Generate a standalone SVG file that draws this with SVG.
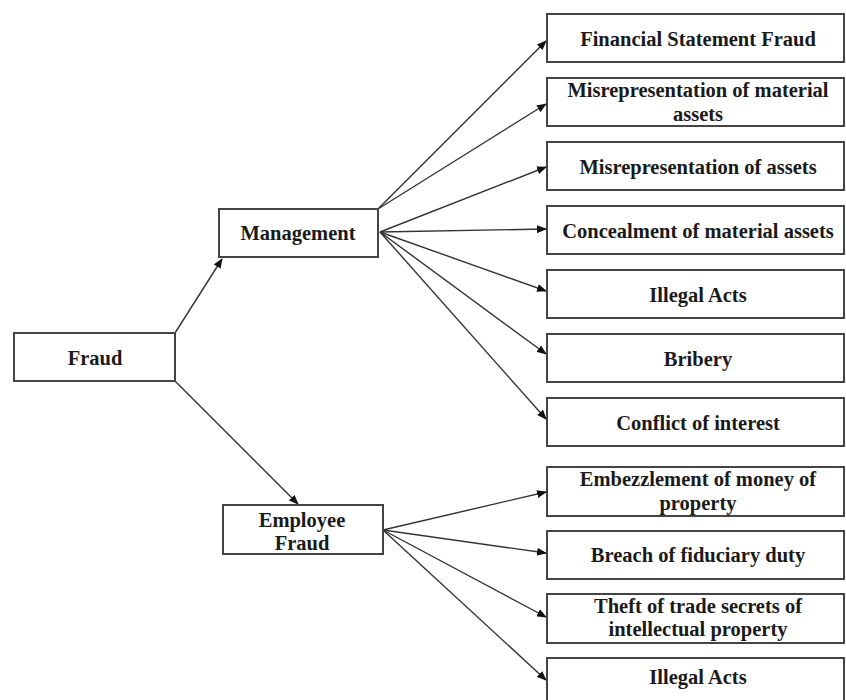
<svg xmlns="http://www.w3.org/2000/svg" width="846" height="700" viewBox="0 0 846 700">
<defs>
<marker id="ah" markerWidth="10" markerHeight="8" refX="9" refY="4" orient="auto" markerUnits="userSpaceOnUse">
<path d="M0,0 L10,4 L0,8 Z" fill="#111"/>
</marker>
<style>
.box{fill:#fff;stroke:#444;stroke-width:2}
.t{font-family:"Liberation Serif","Times New Roman",serif;font-weight:bold;font-size:20.5px;fill:#1a1a1a;text-anchor:middle}
.c{stroke:#333;stroke-width:1.4;fill:none;marker-end:url(#ah)}
</style>
</defs>
<rect width="846" height="700" fill="#fff"/>
<g id="connectors">
<line class="c" x1="175" y1="333" x2="222" y2="259"/>
<line class="c" x1="175" y1="381" x2="298" y2="504"/>
<line class="c" x1="378" y1="209" x2="546" y2="41"/>
<line class="c" x1="378" y1="209" x2="546" y2="104"/>
<line class="c" x1="380" y1="232" x2="546" y2="167"/>
<line class="c" x1="380" y1="232" x2="546" y2="229"/>
<line class="c" x1="380" y1="232" x2="546" y2="291"/>
<line class="c" x1="380" y1="232" x2="546" y2="354"/>
<line class="c" x1="380" y1="232" x2="546" y2="419"/>
<line class="c" x1="383" y1="530" x2="546" y2="492"/>
<line class="c" x1="383" y1="530" x2="546" y2="553"/>
<line class="c" x1="383" y1="530" x2="546" y2="617"/>
<line class="c" x1="383" y1="530" x2="546" y2="680"/>
</g>
<g id="fraud"><rect class="box" x="14" y="333" width="161" height="48"/><text class="t" x="95" y="365">Fraud</text></g>
<g id="management"><rect class="box" x="219" y="209" width="159" height="48"/><text class="t" x="298" y="240">Management</text></g>
<g id="employee"><rect class="box" x="223" y="505" width="160" height="49"/><text class="t" x="302" y="527">Employee</text><text class="t" x="302" y="550">Fraud</text></g>
<g id="n1"><rect class="box" x="547" y="14" width="297" height="48"/><text class="t" x="698" y="46">Financial Statement Fraud</text></g>
<g id="n2"><rect class="box" x="547" y="78" width="297" height="48"/><text class="t" x="698" y="97">Misrepresentation of material</text><text class="t" x="698" y="121">assets</text></g>
<g id="n3"><rect class="box" x="547" y="142" width="297" height="48"/><text class="t" x="698" y="174">Misrepresentation of assets</text></g>
<g id="n4"><rect class="box" x="547" y="206" width="297" height="48"/><text class="t" x="698" y="238">Concealment of material assets</text></g>
<g id="n5"><rect class="box" x="547" y="270" width="297" height="48"/><text class="t" x="698" y="302">Illegal Acts</text></g>
<g id="n6"><rect class="box" x="547" y="334" width="297" height="48"/><text class="t" x="698" y="366">Bribery</text></g>
<g id="n7"><rect class="box" x="547" y="398" width="297" height="48"/><text class="t" x="698" y="430">Conflict of interest</text></g>
<g id="n8"><rect class="box" x="547" y="467" width="297" height="49"/><text class="t" x="698" y="486">Embezzlement of money of</text><text class="t" x="698" y="510">property</text></g>
<g id="n9"><rect class="box" x="547" y="531" width="297" height="48"/><text class="t" x="698" y="562">Breach of fiduciary duty</text></g>
<g id="n10"><rect class="box" x="547" y="594" width="297" height="49"/><text class="t" x="698" y="613">Theft of trade secrets of</text><text class="t" x="698" y="636">intellectual property</text></g>
<g id="n11"><rect class="box" x="547" y="658" width="297" height="48"/><text class="t" x="698" y="684">Illegal Acts</text></g>
</svg>
